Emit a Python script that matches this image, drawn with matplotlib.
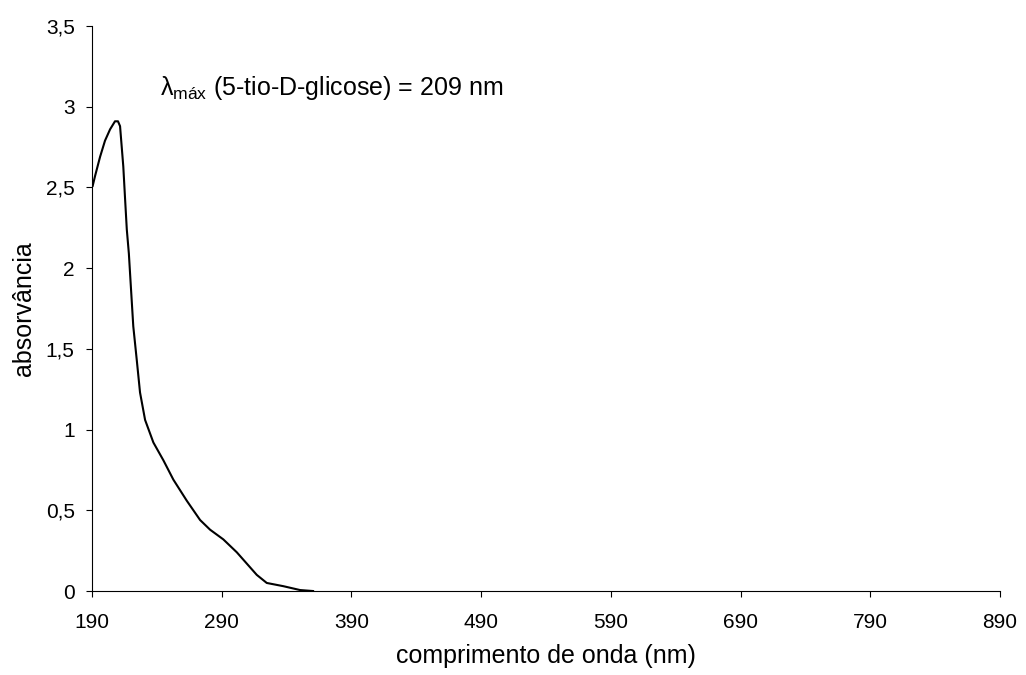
import matplotlib
matplotlib.use('Agg')
import matplotlib.pyplot as plt
from matplotlib.ticker import FuncFormatter

plt.rcParams['font.family'] = ['Liberation Sans', 'DejaVu Sans']
plt.rcParams['mathtext.fontset'] = 'custom'
plt.rcParams['mathtext.rm'] = 'Liberation Sans'
plt.rcParams['mathtext.it'] = 'Liberation Sans'

# UV spectrum of 5-tio-D-glicose (nm, absorbance)
wavelength = [190.5, 192.3, 196.2, 200.0, 203.9, 207.7, 210.0, 211.6, 212.9, 214.1,
              215.4, 216.8, 218.4, 219.6, 221.8, 224.5, 227.0, 230.9, 237.3, 245.0,
              252.7, 263.0, 273.3, 281.0, 291.2, 301.6, 309.3, 317.0, 324.7, 337.5,
              350.4, 360.4]
absorbance = [2.51, 2.57, 2.69, 2.79, 2.86, 2.91, 2.91, 2.88, 2.75, 2.63,
              2.44, 2.24, 2.09, 1.93, 1.64, 1.43, 1.23, 1.06, 0.92, 0.81,
              0.69, 0.56, 0.44, 0.38, 0.32, 0.24, 0.17, 0.10, 0.05, 0.03,
              0.006, 0.0]

x_ticks = [190, 290, 390, 490, 590, 690, 790, 890]
y_ticks = [0, 0.5, 1, 1.5, 2, 2.5, 3, 3.5]

fig = plt.figure(figsize=(10.26, 6.75), dpi=100)
ax = fig.add_axes([0.0897, 0.1244, 0.885, 0.837])

ax.plot(wavelength, absorbance, color='black', lw=1.5)

ax.set_xlim(190, 890)
ax.set_ylim(0, 3.5)
ax.set_xticks(x_ticks)
ax.set_yticks(y_ticks)
ax.yaxis.set_major_formatter(FuncFormatter(lambda v, p: ('%g' % v).replace('.', ',')))
ax.tick_params(direction='out', length=4.5, width=0.8, labelsize=15)
ax.tick_params(axis='x', pad=11)
ax.tick_params(axis='y', pad=8)
for s in ['top', 'right']:
    ax.spines[s].set_visible(False)
for s in ['left', 'bottom']:
    ax.spines[s].set_linewidth(0.8)

ax.set_xlabel('comprimento de onda (nm)', fontsize=18, labelpad=9)
ax.set_ylabel('absorvância', fontsize=18, labelpad=7)

ax.text(242.4, 3.073, r'$\lambda_{\mathregular{máx}}$ (5-tio-D-glicose) = 209 nm',
        fontsize=18, ha='left', va='baseline')

fig.savefig('out.png', dpi=100)
